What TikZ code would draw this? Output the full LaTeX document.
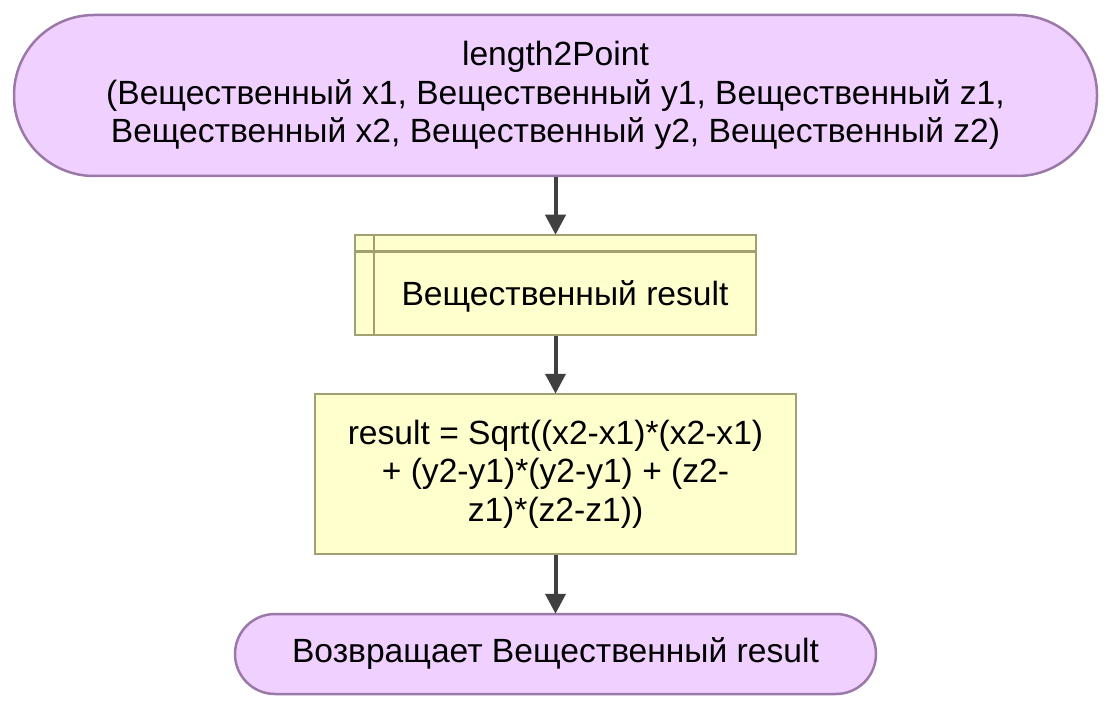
\documentclass[tikz,border=0pt]{standalone}
\usepackage{fontspec}
\setmainfont{Liberation Sans}
\usetikzlibrary{arrows.meta,calc}
\definecolor{termfill}{RGB}{240,208,255}
\definecolor{termdraw}{RGB}{154,120,168}
\definecolor{boxfill}{RGB}{255,255,206}
\definecolor{boxdraw}{RGB}{160,160,112}
\definecolor{arr}{RGB}{64,64,64}
\begin{document}
\begin{tikzpicture}[x=1pt,y=-1pt,
  txt/.style={font=\fontsize{33.6}{38.5}\selectfont, align=center, text=black},
  term/.style={draw=termdraw, fill=termfill, line width=2.5pt, inner sep=0pt},
  procbox/.style={draw=boxdraw, fill=boxfill, line width=2.5pt, inner sep=0pt},
  flow/.style={draw=arr, line width=4pt, -{Triangle[width=20pt,length=20pt]}, shorten >=-1pt}
]
\useasboundingbox (0,0) rectangle (1111,711);
\node[term, txt, rounded corners=80pt, minimum width=1083pt, minimum height=161pt] (start) at (555.5,95.5)
  {length2Point\\(Вещественный x1, Вещественный y1, Вещественный z1,\\ Вещественный x2, Вещественный y2, Вещественный z2)};
\node[procbox, minimum width=401pt, minimum height=100pt] (decl) at (555.5,285) {};
\draw[boxdraw, line width=2.5pt] ($(decl.north west)+(20,0)$) -- ($(decl.south west)+(20,0)$);
\draw[boxdraw, line width=2.5pt] ($(decl.north west)+(0,18)$) -- ($(decl.north east)+(0,18)$);
\node[txt] (decltext) at (565,296) {Вещественный result};
\node[procbox, txt, minimum width=481pt, minimum height=160pt] (calc) at (555.5,474)
  {result = Sqrt((x2-x1)*(x2-x1)\\ + (y2-y1)*(y2-y1) + (z2-\\z1)*(z2-z1))};
\node[term, txt, rounded corners=40pt, minimum width=641pt, minimum height=80pt] (ret) at (555.5,654)
  {Возвращает Вещественный result};
\draw[flow] (start.south) -- (decl.north);
\draw[flow] (decl.south) -- (calc.north);
\draw[flow] (calc.south) -- (ret.north);
\end{tikzpicture}
\end{document}
